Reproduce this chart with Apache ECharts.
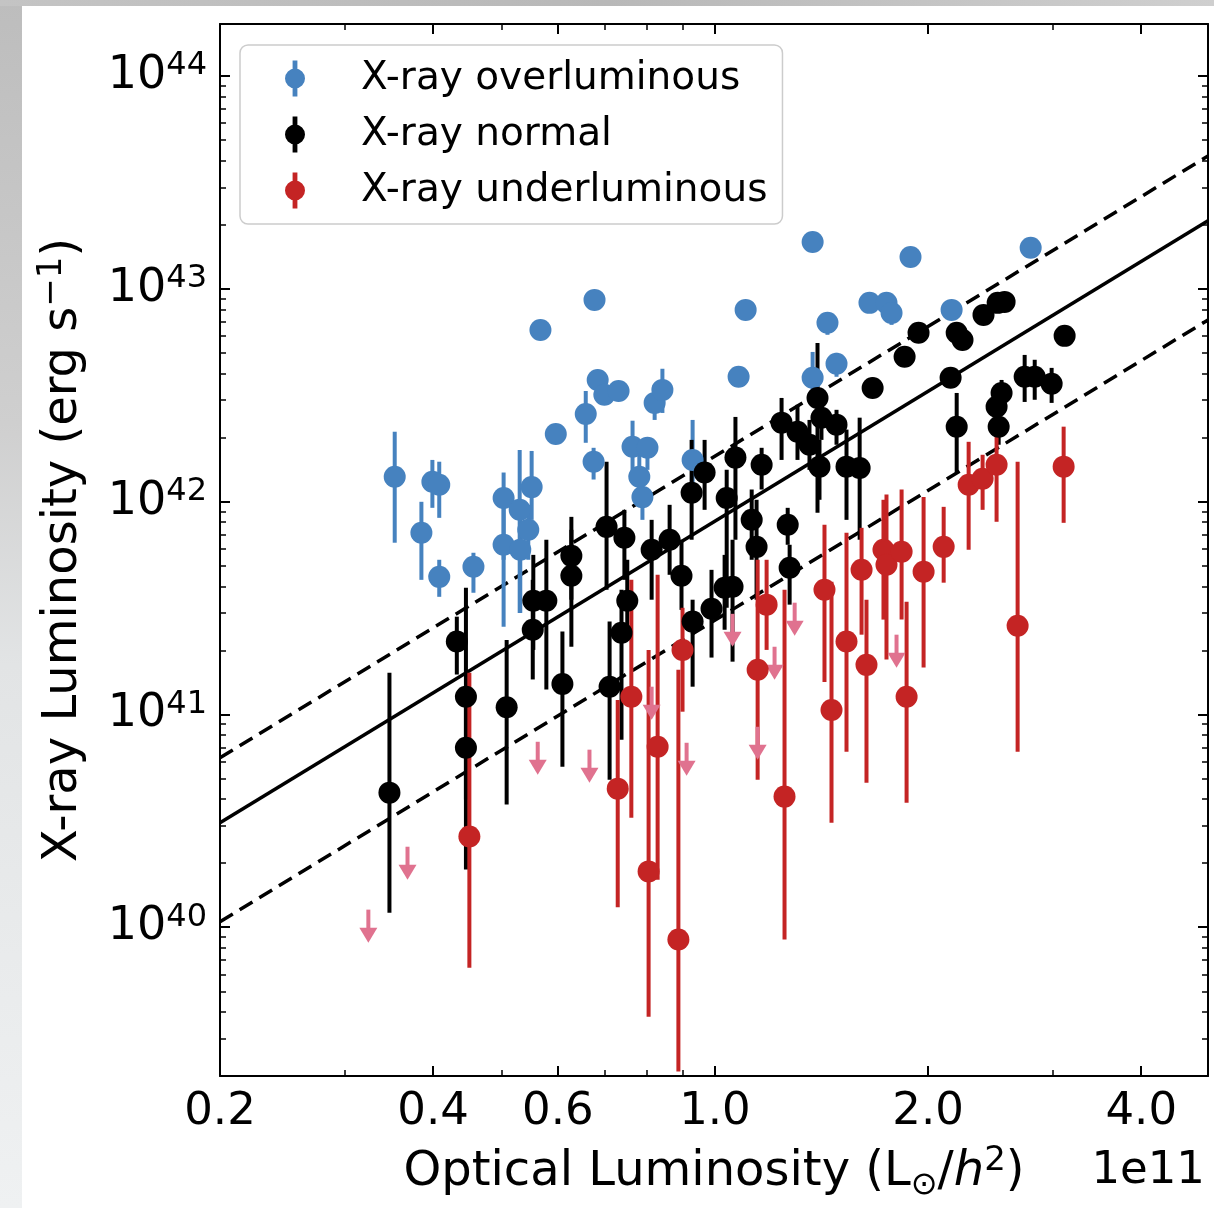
<!DOCTYPE html>
<html>
<head>
<meta charset="utf-8">
<script src="https://cdn.jsdelivr.net/npm/echarts@6/dist/echarts.min.js"></script>
<style>
html,body{margin:0;padding:0;background:#ffffff;}
#chart{width:1214px;height:1208px;}
</style>
</head>
<body>
<div id="chart"></div>
<script>
// ---------------- axis ranges & ticks ----------------
const X_MIN = 0.2, X_MAX = 4.97;          // optical luminosity, units of 1e11 L_sun/h^2
const Y_MIN = 2e39, Y_MAX = 1.755e44;     // X-ray luminosity, erg/s
const xMajor = [0.2, 0.4, 0.6, 1.0, 2.0, 4.0];
const xTickLabels = ['0.2', '0.4', '0.6', '1.0', '2.0', '4.0'];
const xMinor = [0.3, 0.5, 0.7, 0.8, 0.9, 3.0];
const yMajor = [1e40, 1e41, 1e42, 1e43, 1e44];
const yMinor = [];
for (let e = 39; e <= 43; e++) for (let k = 2; k <= 9; k++) yMinor.push(k * Math.pow(10, e));

// ---------------- X-ray overluminous (blue) ----------------
const overX  = [0.353,0.385,0.399,0.408,0.408,0.456,0.503,0.503,0.530,0.531,0.545,0.551,0.567,0.596,0.657,0.676,0.674,0.683,0.698,0.731,0.765,0.803,0.782,0.790,0.822,0.843,0.930,1.080,1.105,1.374,1.374,1.442,1.485,1.653,1.747,1.776,1.889,2.159,2.792];
const overY  = [1.31e42,7.14e41,1.24e42,1.20e42,4.43e41,4.94e41,1.04e42,6.27e41,9.15e41,5.94e41,7.37e41,1.17e42,6.41e42,2.08e42,2.58e42,8.87e42,1.54e42,3.73e42,3.18e42,3.31e42,1.81e42,1.79e42,1.31e42,1.05e42,2.91e42,3.35e42,1.57e42,3.86e42,7.96e42,3.82e42,1.66e43,6.92e42,4.44e42,8.59e42,8.59e42,7.70e42,1.41e43,7.96e42,1.56e43];
const overLo = [6.41e41,4.29e41,9.35e41,8.39e41,3.57e41,3.73e41,5.33e41,2.58e41,3.00e41,3.00e41,5.33e41,8.21e41,5.94e42,1.95e42,1.89e42,8.30e42,1.27e42,3.35e42,3.18e42,3.31e42,1.34e42,1.41e42,9.66e41,8.21e41,2.42e42,2.61e42,1.02e42,3.86e42,7.96e42,3.01e42,1.66e43,6.08e42,3.86e42,8.59e42,8.59e42,6.77e42,1.41e43,7.96e42,1.56e43];
const overHi = [2.13e42,9.98e41,1.57e42,1.54e42,5.33e41,5.75e41,1.37e42,1.14e42,1.75e42,1.02e42,9.66e41,1.73e42,6.92e42,2.22e42,3.31e42,9.50e42,1.79e42,4.16e42,3.18e42,3.31e42,2.40e42,1.95e42,1.66e42,1.41e42,3.54e42,4.21e42,2.42e42,3.86e42,7.96e42,5.05e42,1.66e43,7.54e42,5.00e42,8.59e42,8.59e42,8.40e42,1.41e43,7.96e42,1.56e43];

// ---------------- X-ray normal (black) ----------------
const normX  = [0.347,0.432,0.445,0.445,0.508,0.553,0.554,0.578,0.609,0.627,0.627,0.703,0.710,0.738,0.745,0.752,0.814,0.863,0.897,0.930,0.927,0.967,0.989,1.032,1.059,1.039,1.069,1.127,1.145,1.164,1.242,1.267,1.275,1.308,1.360,1.396,1.414,1.485,1.405,1.534,1.601,1.670,1.853,1.939,2.195,2.237,2.395,2.508,2.565,2.152,2.195,2.499,2.540,2.516,2.738,2.829,2.989,3.118];
const normY  = [4.29e40,2.20e41,1.21e41,6.98e40,1.08e41,2.50e41,3.42e41,3.42e41,1.39e41,5.56e41,4.48e41,7.61e41,1.35e41,2.42e41,6.76e41,3.42e41,5.94e41,6.62e41,4.48e41,2.73e41,1.10e42,1.37e42,3.14e41,3.94e41,3.98e41,1.04e42,1.61e42,8.21e41,6.13e41,1.49e42,2.35e42,7.78e41,4.89e41,2.13e42,1.85e42,3.07e42,2.48e42,2.30e42,1.46e42,1.46e42,1.44e42,3.42e42,4.79e42,6.21e42,6.21e42,5.75e42,7.54e42,8.59e42,8.68e42,3.82e42,2.25e42,2.79e42,3.24e42,2.25e42,3.86e42,3.86e42,3.58e42,6.01e42];
const normLo = [1.17e40,1.54e41,3.98e40,1.87e40,3.77e40,1.46e41,2.01e41,1.31e41,5.68e40,3.46e41,2.08e41,3.85e41,4.93e40,7.61e40,4.29e41,2.24e41,3.46e41,4.53e41,3.10e41,1.35e41,6.62e41,9.15e41,1.85e41,2.50e41,1.77e41,3.17e41,6.62e41,5.33e41,3.46e41,1.14e42,1.57e42,6.27e41,3.28e41,1.57e42,1.41e42,8.86e41,1.95e42,1.85e42,1.02e42,8.21e41,6.62e41,3.07e42,4.79e42,6.21e42,6.21e42,5.75e42,7.54e42,8.59e42,8.68e42,3.82e42,1.37e42,2.30e42,2.76e42,1.85e42,2.94e42,3.01e42,2.91e42,6.01e42];
const normHi = [1.57e41,2.88e41,3.94e41,1.31e41,2.24e41,4.29e41,5.62e41,6.62e41,2.45e41,8.48e41,7.37e41,1.54e42,2.73e41,3.85e41,9.15e41,5.33e41,8.21e41,9.66e41,6.62e41,3.46e41,1.95e42,1.95e42,4.78e41,5.62e41,6.62e41,1.41e42,2.50e42,1.14e42,1.02e42,1.79e42,3.07e42,9.35e41,6.27e41,2.85e42,2.42e42,5.57e42,3.01e42,2.70e42,1.95e42,2.18e42,2.48e42,3.82e42,4.79e42,6.21e42,6.21e42,5.75e42,7.54e42,8.59e42,8.68e42,3.82e42,3.24e42,3.35e42,3.73e42,2.70e42,4.89e42,4.64e42,4.25e42,6.01e42];

// ---------------- X-ray underluminous (red) ----------------
const underX  = [0.450,0.729,0.762,0.806,0.830,0.888,0.900,1.149,1.183,1.254,1.428,1.461,1.534,1.611,1.637,1.730,1.747,1.835,1.865,1.971,2.104,2.282,2.388,2.499,2.676,3.108];
const underY  = [2.67e40,4.48e40,1.21e41,1.83e40,7.05e40,8.75e39,2.01e41,1.62e41,3.28e41,4.11e40,3.85e41,1.05e41,2.20e41,4.78e41,1.71e41,5.94e41,5.05e41,5.81e41,1.21e41,4.68e41,6.13e41,1.20e42,1.28e42,1.49e42,2.61e41,1.46e42];
const underLo = [6.46e39,1.24e40,3.27e40,3.80e39,1.67e40,2.10e39,1.03e41,4.93e40,2.01e41,8.75e39,1.42e41,3.10e40,6.68e40,2.37e41,4.78e40,2.79e41,1.81e41,2.79e41,3.85e40,1.66e41,4.16e41,5.94e41,9.15e41,8.04e41,6.68e40,7.95e41];
const underHi = [1.57e41,1.17e41,4.29e41,2.01e41,4.53e41,1.62e41,3.17e41,5.33e41,5.33e41,3.85e41,7.78e41,4.20e41,7.14e41,7.53e41,3.46e41,1.02e42,1.08e42,1.14e42,3.38e41,1.05e42,9.45e41,1.91e42,1.66e42,2.30e42,1.54e42,2.25e42];

// ---------------- upper limits (pink arrows) ----------------
const limitX = [0.324,0.368,0.562,0.665,0.814,0.912,1.059,1.149,1.214,1.296,1.805];
const limitY = [1.21e40,2.39e40,7.44e40,6.83e40,1.35e41,7.36e40,2.97e41,8.75e40,2.08e41,3.35e41,2.37e41];

// ---------------- fitted relation and scatter band ----------------
const fitX   = [0.2, 4.97];
const fitY   = [3.10e40, 2.087e43];
const upperY = [6.26e40, 4.21e43];
const lowerY = [1.062e40, 7.14e42];

// ---------------- styling ----------------
const FONT = "'DejaVu Sans', 'Noto Sans', sans-serif";
const C_BLUE = '#4682bf', C_BLACK = '#000000', C_RED = '#c42424', C_PINK = '#e0728f';
const ICON = 'path://M7.6,0H12.4V36H7.6Z M0,18A10,10 0 1 1 20,18A10,10 0 1 1 0,18Z';

const chart = echarts.init(document.getElementById('chart'), null, {renderer: 'canvas'});

function xAxisDef(position, ticks, len, showLine, showLabel, extra) {
  return Object.assign({
    type: 'log', logBase: 10, min: X_MIN, max: X_MAX, position: position, gridIndex: 0,
    axisLine: {show: showLine, onZero: false, lineStyle: {color: '#000', width: 2}},
    axisTick: {show: true, inside: true, length: len, customValues: ticks,
               lineStyle: {color: '#000', width: len > 8 ? 2 : 1.5}},
    axisLabel: showLabel ? {
      show: true, customValues: ticks, margin: 14, color: '#000', fontSize: 45, fontFamily: FONT,
      formatter: function (v) {
        const i = xMajor.findIndex(function (m) { return Math.abs(m - v) < 1e-6; });
        return i >= 0 ? xTickLabels[i] : v.toFixed(1);
      }
    } : {show: false},
    splitLine: {show: false}, minorTick: {show: false}, minorSplitLine: {show: false},
    axisPointer: {show: false}
  }, extra || {});
}
function yAxisDef(position, ticks, len, showLine, showLabel, extra) {
  return Object.assign({
    type: 'log', logBase: 10, min: Y_MIN, max: Y_MAX, position: position, gridIndex: 0,
    axisLine: {show: showLine, onZero: false, lineStyle: {color: '#000', width: 2}},
    axisTick: {show: true, inside: true, length: len, customValues: ticks,
               lineStyle: {color: '#000', width: len > 8 ? 2 : 1.5}},
    axisLabel: showLabel ? {
      show: true, customValues: ticks, margin: 13, color: '#000', fontFamily: FONT,
      formatter: function (v) { return '{b|10}{s|' + Math.round(Math.log10(v)) + '}'; },
      rich: {
        b: {fontSize: 46, fontFamily: FONT, color: '#000', lineHeight: 52},
        s: {fontSize: 32, fontFamily: FONT, color: '#000', lineHeight: 26, verticalAlign: 'top'}
      }
    } : {show: false},
    splitLine: {show: false}, minorTick: {show: false}, minorSplitLine: {show: false},
    axisPointer: {show: false}
  }, extra || {});
}

function errorBars(name, xs, ys, lo, hi, color) {
  return {
    type: 'custom', name: name, xAxisIndex: 0, yAxisIndex: 0, silent: true, clip: true,
    encode: {x: 0, y: 1},
    data: xs.map(function (x, i) { return [x, ys[i], lo[i], hi[i]]; }),
    renderItem: function (params, api) {
      const a = api.coord([api.value(0), api.value(3)]);
      const b = api.coord([api.value(0), api.value(2)]);
      return {type: 'line', shape: {x1: a[0], y1: a[1], x2: b[0], y2: b[1]},
              style: {stroke: color, lineWidth: 4}};
    }
  };
}
function points(name, xs, ys, color) {
  return {
    type: 'scatter', name: name, xAxisIndex: 0, yAxisIndex: 0, silent: true,
    symbol: 'circle', symbolSize: 22, itemStyle: {color: color, opacity: 1},
    data: xs.map(function (x, i) { return [x, ys[i]]; })
  };
}
function fitLine(name, ys, dashed) {
  return {
    type: 'line', name: name, xAxisIndex: 0, yAxisIndex: 0, silent: true, symbol: 'none',
    lineStyle: {color: '#000', width: 3.5, type: dashed ? [15, 8] : 'solid'},
    data: fitX.map(function (x, i) { return [x, ys[i]]; }), z: 1
  };
}

const option = {
  animation: false,
  backgroundColor: '#ffffff',
  textStyle: {fontFamily: FONT},
  grid: {left: 220, top: 24, width: 988, height: 1052, containLabel: false, outerBoundsMode: 'none'},
  graphic: [
    {type: 'rect', left: 0, top: 0, z: -10, shape: {width: 22, height: 1208},
     style: {fill: {type: 'linear', x: 0, y: 0, x2: 0, y2: 1,
       colorStops: [{offset: 0, color: '#bdbdbd'}, {offset: 0.35, color: '#cfcfcf'},
                    {offset: 0.55, color: '#e2e4e5'}, {offset: 1, color: '#eff1f2'}]}}},
    {type: 'rect', left: 0, top: 0, z: -10, shape: {width: 1214, height: 6},
     style: {fill: {type: 'linear', x: 0, y: 0, x2: 1, y2: 0,
       colorStops: [{offset: 0, color: '#c4c4c4'}, {offset: 0.5, color: '#b8b8b8'}, {offset: 1, color: '#cfcfcf'}]}}},
    {type: 'text', right: 9, top: 1149, z: 10,
     style: {text: '1e11', font: '45px ' + FONT, fill: '#000'}}
  ],
  legend: {
    data: ['X-ray overluminous', 'X-ray normal', 'X-ray underluminous'],
    orient: 'vertical', left: 240, top: 45,
    padding: [14, 15, 14, 45], itemGap: 17, itemWidth: 20, itemHeight: 36,
    icon: ICON, selectedMode: false,
    backgroundColor: 'rgba(255,255,255,0.85)', borderColor: '#cccccc', borderWidth: 1.5, borderRadius: 8,
    textStyle: {fontSize: 39, fontFamily: FONT, color: '#000', padding: [0, 0, 0, 51]}
  },
  xAxis: [
    xAxisDef('bottom', xMajor, 10, true, true, {
      name: 'Optical Luminosity (L{sub|⊙}/{it|h}{sup|2})', nameLocation: 'middle', nameGap: 68,
      nameTextStyle: {fontSize: 48, fontFamily: FONT, color: '#000', lineHeight: 58,
        rich: {
          sub: {fontSize: 32, fontFamily: FONT, color: '#000', lineHeight: 40, verticalAlign: 'bottom'},
          it: {fontSize: 48, fontFamily: FONT, color: '#000', fontStyle: 'italic', lineHeight: 58},
          sup: {fontSize: 34, fontFamily: FONT, color: '#000', lineHeight: 32, verticalAlign: 'top'}
        }}
    }),
    xAxisDef('bottom', xMinor, 6, false, false),
    xAxisDef('top', xMajor, 10, true, false),
    xAxisDef('top', xMinor, 6, false, false)
  ],
  yAxis: [
    yAxisDef('left', yMajor, 10, true, true, {
      name: 'X-ray Luminosity (erg s{sup|−1})', nameLocation: 'middle', nameGap: 127,
      nameTextStyle: {fontSize: 48, fontFamily: FONT, color: '#000', lineHeight: 58,
        rich: {sup: {fontSize: 34, fontFamily: FONT, color: '#000', lineHeight: 32, verticalAlign: 'top'}}}
    }),
    yAxisDef('left', yMinor, 6, false, false),
    yAxisDef('right', yMajor, 10, true, false),
    yAxisDef('right', yMinor, 6, false, false)
  ],
  series: [
    fitLine('fit', fitY, false),
    fitLine('fit upper', upperY, true),
    fitLine('fit lower', lowerY, true),
    errorBars('over err', overX, overY, overLo, overHi, C_BLUE),
    points('X-ray overluminous', overX, overY, C_BLUE),
    errorBars('normal err', normX, normY, normLo, normHi, C_BLACK),
    points('X-ray normal', normX, normY, C_BLACK),
    errorBars('under err', underX, underY, underLo, underHi, C_RED),
    points('X-ray underluminous', underX, underY, C_RED),
    {
      type: 'custom', name: 'upper limits', xAxisIndex: 0, yAxisIndex: 0, silent: true,
      encode: {x: 0, y: 1},
      data: limitX.map(function (x, i) { return [x, limitY[i]]; }),
      renderItem: function (params, api) {
        const p = api.coord([api.value(0), api.value(1)]);
        return {type: 'group', children: [
          {type: 'line', shape: {x1: p[0], y1: p[1], x2: p[0], y2: p[1] + 21},
           style: {stroke: C_PINK, lineWidth: 4}},
          {type: 'polygon', shape: {points: [[p[0] - 9, p[1] + 18], [p[0] + 9, p[1] + 18], [p[0], p[1] + 33]]},
           style: {fill: C_PINK}}
        ]};
      }
    }
  ]
};
chart.setOption(option);
</script>
</body>
</html>
